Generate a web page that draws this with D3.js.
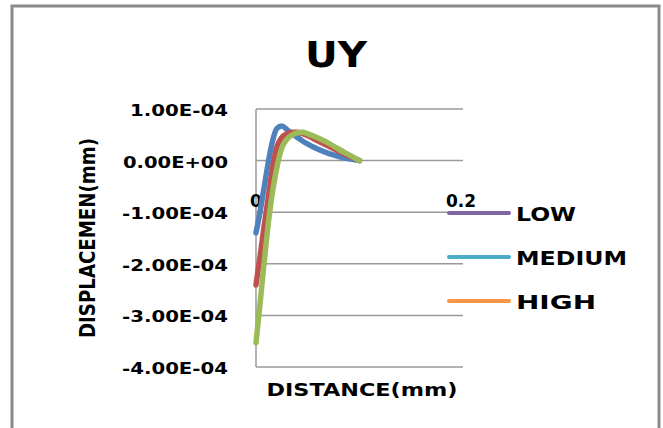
<!DOCTYPE html>
<html><head><meta charset="utf-8">
<script src="https://cdn.jsdelivr.net/npm/d3@7"></script>
<style>html,body{margin:0;padding:0;background:#fff;}svg{display:block;}</style>
</head><body>
<script>
const distance = [0, 0.004, 0.008, 0.012, 0.016, 0.02, 0.025, 0.03, 0.035, 0.04, 0.045, 0.05, 0.06, 0.07, 0.08, 0.09, 0.1];
const lowValues    = [-1.40e-4,-0.98e-4,-0.50e-4,-0.02e-4,0.38e-4,0.62e-4,0.67e-4,0.60e-4,0.52e-4,0.45e-4,0.38e-4,0.32e-4,0.22e-4,0.14e-4,0.08e-4,0.035e-4,0];
const mediumValues = [-2.41e-4,-1.85e-4,-1.25e-4,-0.70e-4,-0.15e-4,0.25e-4,0.45e-4,0.52e-4,0.55e-4,0.55e-4,0.52e-4,0.48e-4,0.38e-4,0.28e-4,0.18e-4,0.09e-4,0];
const highValues   = [-3.53e-4,-2.75e-4,-1.95e-4,-1.20e-4,-0.60e-4,-0.15e-4,0.25e-4,0.42e-4,0.50e-4,0.54e-4,0.55e-4,0.52e-4,0.44e-4,0.34e-4,0.22e-4,0.11e-4,0];
const seriesNames = ["LOW", "MEDIUM", "HIGH"];
const yTicks = [1e-4, 0, -1e-4, -2e-4, -3e-4, -4e-4];
const yTickLabels = ["1.00E-04", "0.00E+00", "-1.00E-04", "-2.00E-04", "-3.00E-04", "-4.00E-04"];
const xTicks = [0, 0.2];
const xTickLabels = ["0", "0.2"];

const W = 663, H = 428;
const svg = d3.select("body").append("svg").attr("width", W).attr("height", H);
const font = "'DejaVu Sans', Verdana, sans-serif";

// outer frame
svg.append("rect").attr("x", 12).attr("y", 6).attr("width", 647).attr("height", 440)
  .attr("fill", "none").attr("stroke", "#8a8a8a").attr("stroke-width", 3);

const x = d3.scaleLinear().domain([0, 0.2]).range([256, 463]);
const y = d3.scaleLinear().domain([-4e-4, 1e-4]).range([367, 109]);

// gridlines
svg.append("g").selectAll("line").data(yTicks).join("line")
  .attr("x1", x(0)).attr("x2", x(0.2))
  .attr("y1", d => y(d)).attr("y2", d => y(d))
  .attr("stroke", "#9a9a9a").attr("stroke-width", 1.5);
// left axis line
svg.append("line").attr("x1", x(0)).attr("x2", x(0)).attr("y1", y(1e-4)).attr("y2", y(-4e-4))
  .attr("stroke", "#9a9a9a").attr("stroke-width", 1.5);

// y tick labels
const yLabelWidths = [98, 105, 106, 106, 106, 106];
svg.append("g").selectAll("text").data(yTicks).join("text")
  .attr("x", 228).attr("y", d => y(d) + 7)
  .attr("text-anchor", "end")
  .attr("font-family", font).attr("font-weight", "bold").attr("font-size", 16)
  .attr("textLength", (d, i) => yLabelWidths[i]).attr("lengthAdjust", "spacingAndGlyphs")
  .text((d, i) => yTickLabels[i]);

// x tick labels
svg.append("g").selectAll("text").data(xTicks).join("text")
  .attr("x", d => d === 0 ? x(d) : x(d) - 2).attr("y", 207)
  .attr("text-anchor", "middle")
  .attr("font-family", font).attr("font-weight", "bold").attr("font-size", 17)
  .text((d, i) => xTickLabels[i]);

// series lines
const line = d3.line().x((d, i) => x(distance[i])).y(d => y(d)).curve(d3.curveMonotoneX);
const lineColors = ["#4F81BD", "#C0504D", "#9BBB59"];
[lowValues, mediumValues, highValues].forEach((vals, k) => {
  svg.append("path").datum(vals).attr("d", line)
    .attr("fill", "none").attr("stroke", lineColors[k]).attr("stroke-width", 5.5)
    .attr("stroke-linecap", "round").attr("stroke-linejoin", "round");
});

// title
svg.append("text").attr("x", 336).attr("y", 67).attr("text-anchor", "middle")
  .attr("font-family", font).attr("font-weight", "bold").attr("font-size", 36)
  .attr("textLength", 62).attr("lengthAdjust", "spacingAndGlyphs").text("UY");

// axis titles
svg.append("text").attr("x", 362).attr("y", 396).attr("text-anchor", "middle")
  .attr("font-family", font).attr("font-weight", "bold").attr("font-size", 18)
  .attr("textLength", 191).attr("lengthAdjust", "spacingAndGlyphs").text("DISTANCE(mm)");
svg.append("text").attr("transform", "translate(95,238) rotate(-90)").attr("text-anchor", "middle")
  .attr("font-family", font).attr("font-weight", "600").attr("font-size", 21)
  .attr("textLength", 200).attr("lengthAdjust", "spacingAndGlyphs").text("DISPLACEMEN(mm)");

// legend
const legendColors = ["#8064A2", "#4BACC6", "#F79646"];
const legendY = [213, 257, 301];
const legendW = [60, 111, 80];
const lg = svg.append("g").selectAll("g").data(seriesNames).join("g");
lg.append("line").attr("x1", 449).attr("x2", 509)
  .attr("y1", (d, i) => legendY[i]).attr("y2", (d, i) => legendY[i])
  .attr("stroke", (d, i) => legendColors[i]).attr("stroke-width", 4).attr("stroke-linecap", "round");
lg.append("text").attr("x", 516).attr("y", (d, i) => legendY[i] + 8)
  .attr("font-family", font).attr("font-weight", "bold").attr("font-size", 19)
  .attr("textLength", (d, i) => legendW[i]).attr("lengthAdjust", "spacingAndGlyphs")
  .text(d => d);
</script>
</body></html>
